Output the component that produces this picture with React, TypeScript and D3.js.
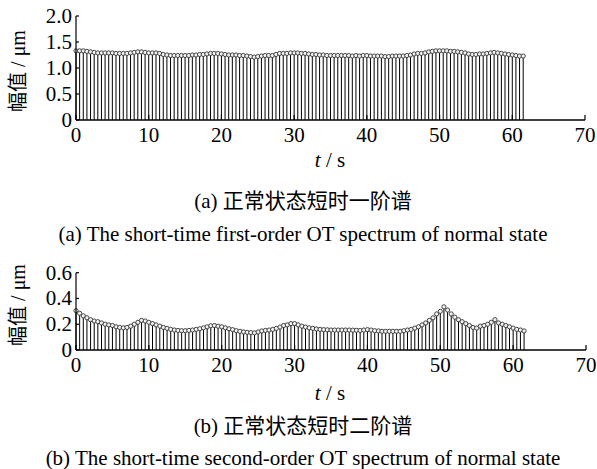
import React from "react";
import * as d3 from "d3";

const W = 597;
const H = 469;

// time axis: 0 .. 61.5 s, step 0.5 s
const times: number[] = d3.range(0, 62, 0.5);

// first-order spectrum amplitudes (μm)
const firstOrder: number[] = [
  1.33, 1.33, 1.33, 1.32, 1.31, 1.30, 1.29, 1.29, 1.29, 1.29,
  1.29, 1.28, 1.28, 1.28, 1.28, 1.29, 1.30, 1.31, 1.31, 1.30,
  1.29, 1.29, 1.29, 1.28, 1.26, 1.25, 1.24, 1.24, 1.24, 1.24,
  1.24, 1.24, 1.25, 1.25, 1.26, 1.26, 1.27, 1.28, 1.28, 1.28,
  1.27, 1.26, 1.25, 1.25, 1.25, 1.24, 1.24, 1.23, 1.22, 1.21,
  1.22, 1.23, 1.24, 1.24, 1.24, 1.26, 1.28, 1.28, 1.28, 1.29,
  1.29, 1.29, 1.28, 1.28, 1.27, 1.26, 1.26, 1.25, 1.25, 1.24,
  1.24, 1.24, 1.24, 1.24, 1.24, 1.24, 1.23, 1.24, 1.23, 1.24,
  1.24, 1.23, 1.23, 1.23, 1.23, 1.22, 1.22, 1.23, 1.23, 1.23,
  1.23, 1.24, 1.25, 1.27, 1.28, 1.28, 1.29, 1.31, 1.32, 1.33,
  1.33, 1.33, 1.33, 1.32, 1.32, 1.31, 1.30, 1.29, 1.27, 1.26,
  1.26, 1.27, 1.27, 1.28, 1.29, 1.30, 1.29, 1.28, 1.27, 1.26,
  1.25, 1.24, 1.23, 1.23,
];

// second-order spectrum amplitudes (μm)
const secondOrder: number[] = [
  0.305, 0.285, 0.265, 0.25, 0.235, 0.225, 0.22, 0.21, 0.2, 0.195,
  0.19, 0.18, 0.175, 0.172, 0.175, 0.185, 0.2, 0.215, 0.23, 0.225,
  0.215, 0.205, 0.195, 0.185, 0.175, 0.168, 0.16, 0.155, 0.152, 0.15,
  0.15, 0.152, 0.155, 0.16, 0.165, 0.172, 0.18, 0.188, 0.19, 0.185,
  0.18, 0.172, 0.165, 0.158, 0.15, 0.145, 0.14, 0.137, 0.135, 0.133,
  0.14, 0.148, 0.152, 0.155, 0.16, 0.168, 0.178, 0.19, 0.195, 0.205,
  0.205, 0.195, 0.185, 0.178, 0.172, 0.168, 0.163, 0.16, 0.158, 0.157,
  0.155, 0.155, 0.155, 0.155, 0.155, 0.155, 0.154, 0.153, 0.152, 0.155,
  0.158, 0.155, 0.15, 0.148, 0.145, 0.145, 0.145, 0.145, 0.145, 0.145,
  0.15, 0.155, 0.16, 0.17, 0.18, 0.195, 0.21, 0.23, 0.25, 0.28,
  0.3, 0.335, 0.31, 0.28, 0.255, 0.235, 0.22, 0.205, 0.19, 0.175,
  0.17, 0.185, 0.19, 0.2, 0.215, 0.235, 0.21, 0.2, 0.19, 0.18,
  0.17, 0.16, 0.155, 0.148,
];

const xTicks: number[] = [0, 10, 20, 30, 40, 50, 60, 70];
const yTicksA: number[] = [0, 0.5, 1.0, 1.5, 2.0];
const yTicksB: number[] = [0, 0.2, 0.4, 0.6];
const yTickLabelsA: string[] = ["0", "0.5", "1.0", "1.5", "2.0"];
const yTickLabelsB: string[] = ["0", "0.2", "0.4", "0.6"];

const yLabel = "幅值 / μm";
const xLabel = "s";
const captionA_cn = "(a)  正常状态短时一阶谱";
const captionA_en = "(a)  The short-time first-order OT spectrum of normal state";
const captionB_cn = "(b) 正常状态短时二阶谱";
const captionB_en = "(b)  The short-time second-order OT spectrum of normal state";

const SERIF = '"Times New Roman", "Liberation Serif", serif';
const CJK = '"Times New Roman", "Liberation Serif", "Noto Sans CJK SC", serif';

type PanelProps = {
  values: number[];
  yMax: number;
  yTicks: number[];
  yTickLabels: string[];
  x0: number;
  x1: number;
  yTop: number;
  yBottom: number;
  xLabelY: number;
  capCnY: number;
  capEnY: number;
  capCn: string;
  capEn: string;
  yLabelY: number;
};

function Panel(p: PanelProps) {
  const x = d3.scaleLinear().domain([0, 70]).range([p.x0, p.x1]);
  const y = d3.scaleLinear().domain([0, p.yMax]).range([p.yBottom, p.yTop]);
  const fs = 21;
  return (
    <g>
      {/* stems */}
      {p.values.map((v, i) => (
        <line
          key={"s" + i}
          x1={x(times[i])}
          x2={x(times[i])}
          y1={y(0)}
          y2={y(v)}
          stroke="#000"
          strokeWidth={1}
        />
      ))}
      {/* markers */}
      {p.values.map((v, i) => (
        <circle
          key={"c" + i}
          cx={x(times[i])}
          cy={y(v)}
          r={2.1}
          fill="#f2f2f2"
          stroke="#333"
          strokeWidth={0.9}
        />
      ))}
      {/* axes */}
      <line x1={p.x0} x2={p.x0} y1={y(0)} y2={y(p.yMax)} stroke="#000" strokeWidth={1.2} />
      <line x1={p.x0} x2={p.x1} y1={y(0)} y2={y(0)} stroke="#000" strokeWidth={1.6} />
      {p.yTicks.map((t, i) => (
        <g key={"yt" + i}>
          <line x1={p.x0} x2={p.x0 + 3} y1={y(t)} y2={y(t)} stroke="#000" strokeWidth={1.2} />
          <text
            x={p.x0 - 4}
            y={y(t) + 7}
            textAnchor="end"
            fontFamily={SERIF}
            fontSize={fs}
            fill="#000"
          >
            {p.yTickLabels[i]}
          </text>
        </g>
      ))}
      {xTicks.map((t, i) => (
        <g key={"xt" + i}>
          <line x1={x(t)} x2={x(t)} y1={y(0)} y2={y(0) - 5} stroke="#000" strokeWidth={1.2} />
          <text
            x={x(t)}
            y={y(0) + 22}
            textAnchor="middle"
            fontFamily={SERIF}
            fontSize={fs}
            fill="#000"
          >
            {t}
          </text>
        </g>
      ))}
      {/* y label */}
      <text
        transform={`translate(25,${p.yLabelY}) rotate(-90)`}
        textAnchor="middle"
        fontFamily={CJK}
        fontSize={20}
        fill="#000"
      >
        {yLabel}
      </text>
      {/* x label */}
      <text x={330} y={p.xLabelY} textAnchor="middle" fontFamily={SERIF} fontSize={fs} fill="#000">
        <tspan fontStyle="italic">t</tspan>
        <tspan> / {xLabel}</tspan>
      </text>
      <text x={303} y={p.capCnY} textAnchor="middle" fontFamily={CJK} fontSize={21} fill="#000">
        {p.capCn}
      </text>
      <text x={303} y={p.capEnY} textAnchor="middle" fontFamily={SERIF} fontSize={21} fill="#000">
        {p.capEn}
      </text>
    </g>
  );
}

export default function App() {
  return (
    <svg
      width={W}
      height={H}
      style={{ position: "absolute", left: 0, top: 0, background: "#fff" }}
    >
      <rect x={0} y={0} width={W} height={H} fill="#fff" />
      <Panel
        values={firstOrder}
        yMax={2.0}
        yTicks={yTicksA}
        yTickLabels={yTickLabelsA}
        x0={76}
        x1={585}
        yTop={16}
        yBottom={120}
        xLabelY={167}
        capCnY={208}
        capEnY={241}
        capCn={captionA_cn}
        capEn={captionA_en}
        yLabelY={71}
      />
      <Panel
        values={secondOrder}
        yMax={0.6}
        yTicks={yTicksB}
        yTickLabels={yTickLabelsB}
        x0={76}
        x1={586}
        yTop={272.7}
        yBottom={350}
        xLabelY={400}
        capCnY={433}
        capEnY={465}
        capCn={captionB_cn}
        capEn={captionB_en}
        yLabelY={305}
      />
    </svg>
  );
}
